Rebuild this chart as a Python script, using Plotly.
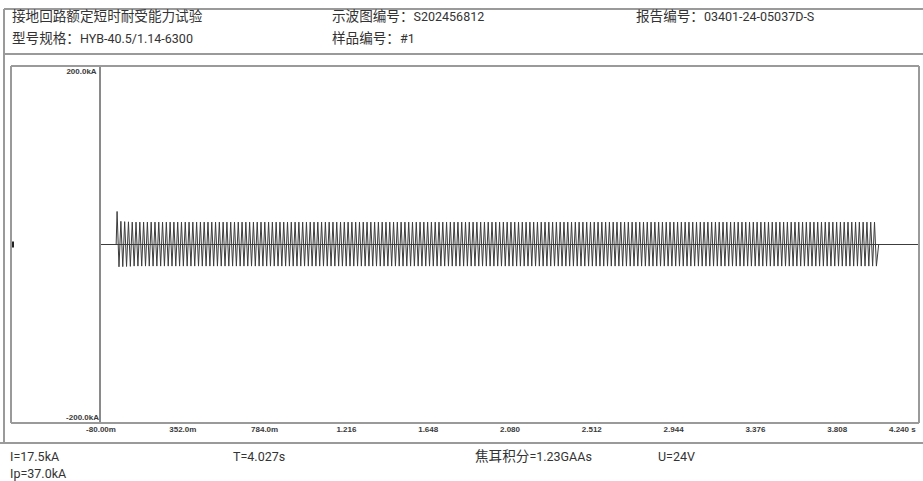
import plotly.graph_objects as go

# ---------------- data ----------------
x_tickvals = [-0.08, 0.352, 0.784, 1.216, 1.648, 2.080, 2.512, 2.944, 3.376, 3.808, 4.240]
x_ticktext = ["-80.00m", "352.0m", "784.0m", "1.216", "1.648", "2.080", "2.512", "2.944", "3.376", "3.808", "4.240 s"]
y_range = [-200.0, 200.0]
y_top_label = "200.0kA"
y_bottom_label = "-200.0kA"

t_start = 0.0          # s, current on
t_end = 4.027          # s, current off (T)
half_period = 0.01     # s, 50 Hz
x_min, x_max = -0.08, 4.24

# peak values (kA) of the first half-cycles
first_peaks = [37.0, -25.0, 26.0, -24.8, 25.6, -24.6, 25.4, -24.5]
steady_peaks = [25.1, -24.2]        # steady-state positive / negative peaks
n_half_cycles = 402

header_left = ["接地回路额定短时耐受能力试验", "型号规格：HYB-40.5/1.14-6300"]
header_mid = ["示波图编号：S202456812", "样品编号：#1"]
header_right = ["报告编号：03401-24-05037D-S"]
footer_row1 = ["I=17.5kA", "T=4.027s", "焦耳积分=1.23GAAs", "U=24V"]
footer_row2 = ["Ip=37.0kA"]

# ---------------- build trace ----------------
peaks = list(first_peaks)
while len(peaks) < n_half_cycles:
    peaks.append(steady_peaks[len(peaks) % 2])
peaks = peaks[:n_half_cycles]

tx = [x_min, t_start]
ty = [0.0, 0.0]
for i, p in enumerate(peaks):
    tx.append(t_start + half_period * (i + 0.5))
    ty.append(p)
tx += [t_end, t_end, x_max]
ty += [0.0, 0.0, 0.0]

# ---------------- layout helpers ----------------
W, H = 923, 481
PL, PR, PT, PB = 101, 919, 66, 423   # plot area in pixels


def px(xp):
    return (xp - PL) / (PR - PL)


def py(yp):
    return (PB - yp) / (PB - PT)


fig = go.Figure()
fig.add_trace(go.Scatter(x=tx, y=ty, mode="lines",
                         line=dict(color="#3c3c3c", width=1),
                         hoverinfo="skip", showlegend=False))
fig.add_trace(go.Scatter(x=[x_min, x_max], y=[0, 0], mode="lines", yaxis="y2",
                         line=dict(color="#3c3c3c", width=1),
                         hoverinfo="skip", showlegend=False))

tickfont = dict(family="Liberation Sans Narrow, Liberation Sans, Arial", size=8,
                color="#3a3a3a", weight="bold")

fig.update_layout(
    width=W, height=H, autosize=False,
    margin=dict(l=PL, r=W - PR, t=PT, b=H - PB, autoexpand=False),
    paper_bgcolor="white", plot_bgcolor="white",
    showlegend=False,
    xaxis=dict(range=[x_min, x_max], tickvals=x_tickvals[:-1], ticktext=x_ticktext[:-1],
               showgrid=False, zeroline=False, showline=False, ticks="",
               tickfont=tickfont, ticklabelstandoff=0, automargin=False),
    yaxis=dict(range=y_range, tickvals=[y_range[1]], ticktext=[y_top_label],
               ticklabelposition="outside bottom",
               showgrid=False, zeroline=False, showline=True,
               linecolor="#8a8a8a", linewidth=1.5, ticks="",
               tickfont=tickfont, ticklabelstandoff=1, automargin=False),
    yaxis2=dict(range=y_range, overlaying="y", side="left",
                tickvals=[y_range[0]], ticktext=[y_bottom_label],
                ticklabelposition="outside top",
                showgrid=False, zeroline=False, showline=False, ticks="",
                tickfont=tickfont, ticklabelstandoff=1, automargin=False),
)

# last x tick label sits right-aligned at the end of the axis
fig.add_annotation(text=x_ticktext[-1], xref="x", yref="paper",
                   x=x_tickvals[-1], y=py(429.5), xanchor="right", yanchor="middle",
                   xshift=-1, showarrow=False, font=tickfont)

# ---------------- frames ----------------
gray = "#9a9a9a"
shapes = [
    # outer frame lines
    dict(x0=px(4), x1=px(W + 2), y0=py(9), y1=py(9)),
    dict(x0=px(4), x1=px(W + 2), y0=py(54), y1=py(54)),
    dict(x0=px(4), x1=px(4), y0=py(9), y1=py(443)),
    dict(x0=px(0), x1=px(W + 2), y0=py(443), y1=py(443)),
    # inner frame
    dict(x0=px(11), x1=px(PR), y0=py(PT), y1=py(PT)),
    dict(x0=px(11), x1=px(PR), y0=py(PB), y1=py(PB)),
    dict(x0=px(11), x1=px(11), y0=py(PT), y1=py(PB)),
    dict(x0=px(PR), x1=px(PR), y0=py(PT), y1=py(PB)),
]
for s in shapes:
    fig.add_shape(type="line", xref="paper", yref="paper",
                  line=dict(color=gray, width=2), **s)
# channel marker
fig.add_shape(type="line", xref="paper", yref="y", x0=px(13), x1=px(13),
              y0=-3.5, y1=3.5, line=dict(color="#222222", width=2))

# ---------------- texts ----------------
txtfont = dict(family="Roboto, Noto Sans CJK SC, sans-serif", size=12.5, color="#333333")


def cjkfy(s):
    out, buf, cjk = [], "", None
    for ch in s:
        is_cjk = ord(ch) > 0x2E80
        if cjk is None or is_cjk == cjk:
            buf += ch
        else:
            out.append((buf, cjk))
            buf = ch
        cjk = is_cjk
    if buf:
        out.append((buf, cjk))
    return "".join(f'<span style="font-size:13.6px">{b}</span>' if c else b for b, c in out)


def add_text(s, xp, yp):
    fig.add_annotation(text=cjkfy(s), xref="paper", yref="paper", x=px(xp), y=py(yp),
                       xanchor="left", yanchor="middle", showarrow=False, font=txtfont)


add_text(header_left[0], 10, 16)
add_text(header_left[1], 10, 38)
add_text(header_mid[0], 330, 16)
add_text(header_mid[1], 330, 38)
add_text(header_right[0], 634, 16)

footer_x = [8, 231, 473, 656]
for s, xp in zip(footer_row1, footer_x):
    add_text(s, xp, 456)
add_text(footer_row2[0], 8, 473)

fig.write_html("out.html",
               config={"displayModeBar": False, "responsive": False},
               post_script="document.body.style.margin='0';document.body.style.overflow='hidden';")
